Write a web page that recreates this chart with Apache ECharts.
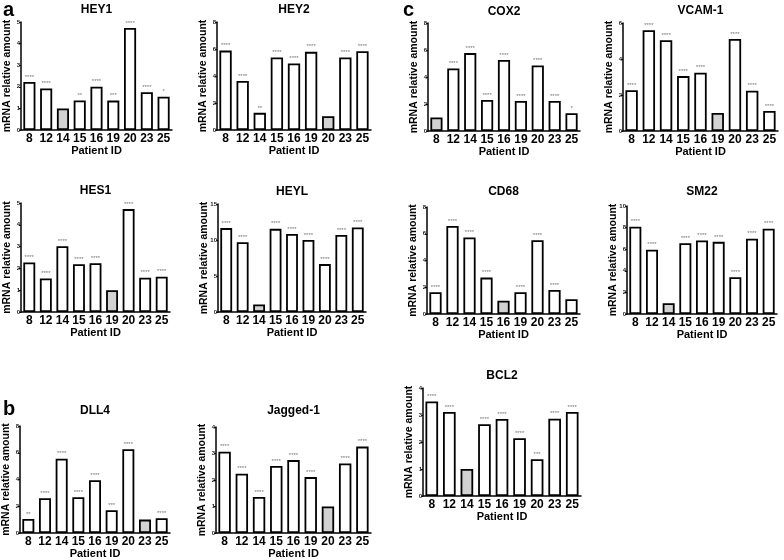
<!DOCTYPE html>
<html>
<head>
<meta charset="utf-8">
<script src="https://cdn.jsdelivr.net/npm/echarts@6/dist/echarts.min.js"></script>
<style>
  html, body { margin: 0; padding: 0; background: #fff; }
  #chart { width: 784px; height: 560px; }
</style>
</head>
<body>
<div id="chart"></div>
<script>
const patients = ['8', '12', '14', '15', '16', '19', '20', '23', '25'];

// relative mRNA amounts
const hey1Values = [2.22, 1.92, 1.0, 1.37, 2.0, 1.36, 4.72, 1.75, 1.54];
const hey1Stars = ['****', '****', '', '**', '****', '***', '****', '****', '*'];
const hey2Values = [5.88, 3.63, 1.27, 5.37, 4.93, 5.79, 1.02, 5.37, 5.84];
const hey2Stars = ['****', '****', '**', '****', '****', '****', '', '****', '****'];
const hes1Values = [2.27, 1.54, 3.02, 2.19, 2.24, 1.0, 4.72, 1.57, 1.62];
const hes1Stars = ['****', '****', '****', '****', '****', '', '****', '****', '****'];
const heylValues = [11.65, 9.7, 1.05, 11.55, 10.85, 10.0, 6.65, 10.7, 11.75];
const heylStars = ['****', '****', '', '****', '****', '****', '****', '****', '****'];
const dll4Values = [1.05, 2.6, 5.55, 2.68, 3.95, 1.7, 6.27, 1.0, 1.1];
const dll4Stars = ['**', '****', '****', '****', '****', '***', '****', '', '****'];
const jaggedValues = [3.07, 2.24, 1.36, 2.53, 2.75, 2.11, 1.0, 2.62, 3.26];
const jaggedStars = ['****', '****', '****', '****', '****', '****', '', '****', '****'];
const cox2Values = [1.0, 4.63, 5.77, 2.3, 5.26, 2.23, 4.86, 2.23, 1.32];
const cox2Stars = ['', '****', '****', '****', '****', '****', '****', '****', '*'];
const vcamValues = [2.27, 5.6, 5.04, 3.05, 3.24, 1.0, 5.11, 2.24, 1.11];
const vcamStars = ['****', '****', '****', '****', '****', '', '****', '****', '****'];
const cd68Values = [1.63, 6.58, 5.72, 2.72, 1.0, 1.63, 5.52, 1.8, 1.11];
const cd68Stars = ['****', '****', '****', '****', '', '****', '****', '****', ''];
const sm22Values = [8.08, 5.95, 1.0, 6.55, 6.8, 6.68, 3.4, 6.97, 7.9];
const sm22Stars = ['****', '****', '', '****', '****', '****', '****', '****', '****'];
const bcl2Values = [3.5, 3.11, 1.0, 2.66, 2.85, 2.14, 1.36, 2.86, 3.11];
const bcl2Stars = ['****', '****', '', '****', '****', '****', '***', '****', '****'];

const panels = [
  { name: 'HEY1', values: hey1Values, stars: hey1Stars, control: '14', max: 5, step: 1, box: [21, 22, 172, 130], titleTop: 4 },
  { name: 'HEY2', values: hey2Values, stars: hey2Stars, control: '20', max: 8, step: 2, box: [217, 22, 371, 130], titleTop: 4 },
  { name: 'HES1', values: hes1Values, stars: hes1Stars, control: '19', max: 5, step: 1, box: [21, 203, 170, 312], titleTop: 185 },
  { name: 'HEYL', values: heylValues, stars: heylStars, control: '14', max: 15, step: 5, box: [218, 204, 366, 312], titleTop: 186 },
  { name: 'DLL4', values: dll4Values, stars: dll4Stars, control: '23', max: 8, step: 2, box: [20, 426, 170, 534], titleTop: 405 },
  { name: 'Jagged-1', values: jaggedValues, stars: jaggedStars, control: '20', max: 4, step: 1, box: [216, 427, 371, 536], titleTop: 405 },
  { name: 'COX2', values: cox2Values, stars: cox2Stars, control: '8', max: 8, step: 2, box: [428, 23, 580, 131], titleTop: 6 },
  { name: 'VCAM-1', values: vcamValues, stars: vcamStars, control: '19', max: 6, step: 2, box: [623, 23, 778, 131], titleTop: 5 },
  { name: 'CD68', values: cd68Values, stars: cd68Stars, control: '16', max: 8, step: 2, box: [427, 207, 580, 314], titleTop: 186 },
  { name: 'SM22', values: sm22Values, stars: sm22Stars, control: '14', max: 10, step: 2, box: [627, 206, 777, 314], titleTop: 186 },
  { name: 'BCL2', values: bcl2Values, stars: bcl2Stars, control: '14', max: 4, step: 1, box: [423, 388, 581, 496], titleTop: 370 }
];

const FONT = '"Liberation Sans", Arial, sans-serif';

const option = {
  animation: false,
  backgroundColor: '#fff',
  textStyle: { fontFamily: FONT },
  title: [],
  grid: [],
  xAxis: [],
  yAxis: [],
  series: [],
  graphic: [
    { type: 'text', left: 3, top: 0, style: { text: 'a', fontSize: 20, fontWeight: 'bold', fontFamily: FONT, fill: '#000' } },
    { type: 'text', left: 3, top: 399, style: { text: 'b', fontSize: 20, fontWeight: 'bold', fontFamily: FONT, fill: '#000' } },
    { type: 'text', left: 403, top: 0, style: { text: 'c', fontSize: 20, fontWeight: 'bold', fontFamily: FONT, fill: '#000' } }
  ]
};

panels.forEach((p, i) => {
  const [l, t, r, b] = p.box;
  option.title.push({
    text: p.name,
    left: (l + r) / 2,
    top: p.titleTop,
    textAlign: 'center',
    padding: 0,
    textStyle: { fontSize: 12, fontWeight: 'bold', color: '#000', fontFamily: FONT }
  });
  option.grid.push({ left: l, top: t, width: r - l, height: b - t });
  option.xAxis.push({
    type: 'category',
    gridIndex: i,
    data: patients,
    name: 'Patient ID',
    nameLocation: 'middle',
    nameGap: 15,
    nameMoveOverlap: false,
    nameTextStyle: { fontSize: 11, fontWeight: 'bold', color: '#000' },
    axisLine: { lineStyle: { color: '#000', width: 1.5 } },
    axisTick: { alignWithLabel: true, length: 2, lineStyle: { color: '#000' } },
    axisLabel: { fontSize: 12, fontWeight: 'bold', color: '#000', margin: 3, interval: 0 }
  });
  option.yAxis.push({
    type: 'value',
    gridIndex: i,
    min: 0,
    max: p.max,
    interval: p.step,
    name: 'mRNA relative amount',
    nameLocation: 'middle',
    nameRotate: 90,
    nameGap: 8,
    nameMoveOverlap: false,
    nameTextStyle: { fontSize: 10.5, fontWeight: 'bold', color: '#000' },
    axisLine: { show: true, lineStyle: { color: '#000', width: 1.5 } },
    axisTick: { show: true, length: 2, lineStyle: { color: '#000' } },
    axisLabel: { fontSize: 6, fontWeight: 'bold', color: '#222', margin: 1 },
    splitLine: { show: false }
  });
  option.series.push({
    type: 'bar',
    xAxisIndex: i,
    yAxisIndex: i,
    barWidth: '72%',
    data: p.values.map((v, k) => ({
      value: v,
      itemStyle: { color: patients[k] === p.control ? '#d2d2d2' : '#fff' }
    })),
    itemStyle: { borderColor: '#000', borderWidth: 1.8 },
    label: {
      show: true,
      position: 'top',
      distance: 2,
      fontSize: 6,
      color: '#777',
      formatter: d => p.stars[d.dataIndex]
    }
  });
});

echarts.init(document.getElementById('chart'), null, { renderer: 'canvas' }).setOption(option);
</script>
</body>
</html>
